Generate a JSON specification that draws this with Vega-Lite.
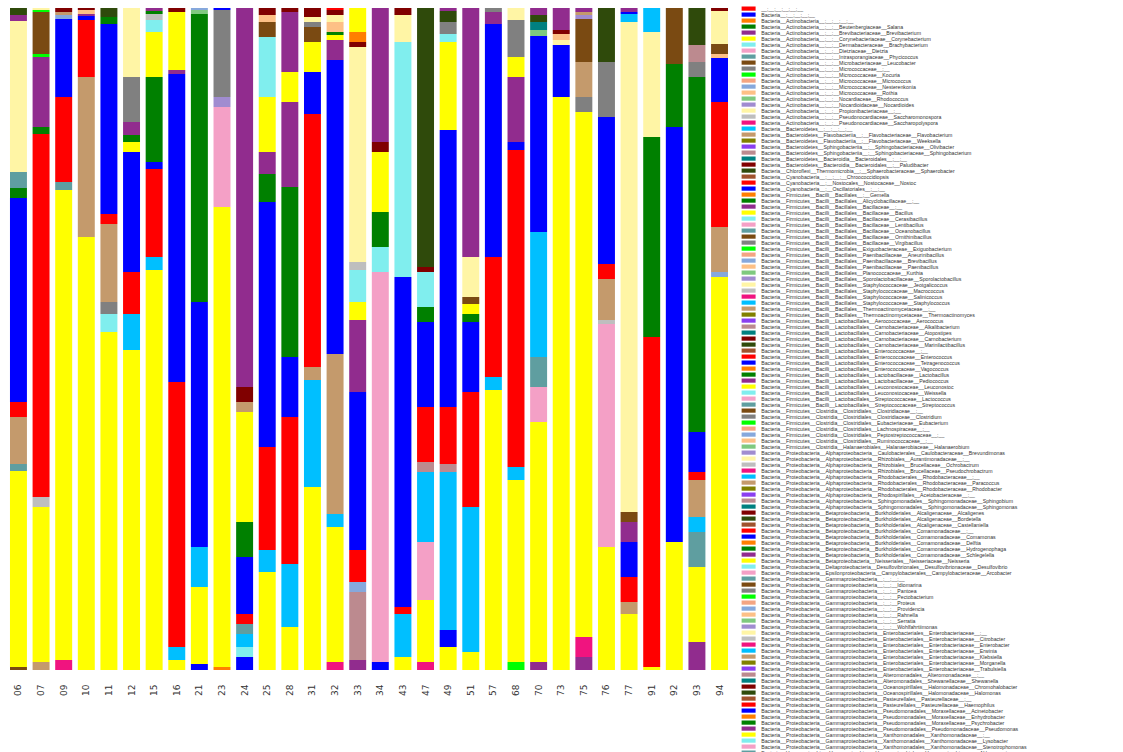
{
"$schema": "https://vega.github.io/schema/vega-lite/v6.json",
"width": 728, "height": 662,
"padding": {"left": 5, "top": 6, "right": 0, "bottom": 0},
"autosize": {"type": "pad"},
"background": "white",
"config": {"view": {"stroke": null}},
"datasets": {"taxa": [
{"id":1,"taxon":"__;__;__;__;__;__"},
{"id":2,"taxon":"Bacteria__;__;__;__;__"},
{"id":3,"taxon":"Bacteria__Actinobacteria__;__;__;__;__"},
{"id":4,"taxon":"Bacteria__Actinobacteria__;__;__Beutenbergiaceae__Salana"},
{"id":5,"taxon":"Bacteria__Actinobacteria__;__;__Brevibacteriaceae__Brevibacterium"},
{"id":6,"taxon":"Bacteria__Actinobacteria__;__;__Corynebacteriaceae__Corynebacterium"},
{"id":7,"taxon":"Bacteria__Actinobacteria__;__;__Dermabacteraceae__Brachybacterium"},
{"id":8,"taxon":"Bacteria__Actinobacteria__;__;__Dietziaceae__Dietzia"},
{"id":9,"taxon":"Bacteria__Actinobacteria__;__;__Intrasporangiaceae__Phycicoccus"},
{"id":10,"taxon":"Bacteria__Actinobacteria__;__;__Microbacteriaceae__Leucobacter"},
{"id":11,"taxon":"Bacteria__Actinobacteria__;__;__Micrococcaceae__;__"},
{"id":12,"taxon":"Bacteria__Actinobacteria__;__;__Micrococcaceae__Kocuria"},
{"id":13,"taxon":"Bacteria__Actinobacteria__;__;__Micrococcaceae__Micrococcus"},
{"id":14,"taxon":"Bacteria__Actinobacteria__;__;__Micrococcaceae__Nesterenkonia"},
{"id":15,"taxon":"Bacteria__Actinobacteria__;__;__Micrococcaceae__Rothia"},
{"id":16,"taxon":"Bacteria__Actinobacteria__;__;__Nocardiaceae__Rhodococcus"},
{"id":17,"taxon":"Bacteria__Actinobacteria__;__;__Nocardioidaceae__Nocardioides"},
{"id":18,"taxon":"Bacteria__Actinobacteria__;__;__Propionibacteriaceae__;__"},
{"id":19,"taxon":"Bacteria__Actinobacteria__;__;__Pseudonocardiaceae__Saccharomonospora"},
{"id":20,"taxon":"Bacteria__Actinobacteria__;__;__Pseudonocardiaceae__Saccharopolyspora"},
{"id":21,"taxon":"Bacteria__Bacteroidetes__;__;__;__;__"},
{"id":22,"taxon":"Bacteria__Bacteroidetes__Flavobacteriia__;__Flavobacteriaceae__Flavobacterium"},
{"id":23,"taxon":"Bacteria__Bacteroidetes__Flavobacteriia__;__Flavobacteriaceae__Weeksella"},
{"id":24,"taxon":"Bacteria__Bacteroidetes__Sphingobacteriia__;__Sphingobacteriaceae__Olivibacter"},
{"id":25,"taxon":"Bacteria__Bacteroidetes__Sphingobacteriia__;__Sphingobacteriaceae__Sphingobacterium"},
{"id":26,"taxon":"Bacteria__Bacteroidetes__Bacteroidia__Bacteroidales__;__;__"},
{"id":27,"taxon":"Bacteria__Bacteroidetes__Bacteroidia__Bacteroidales__;__Paludibacter"},
{"id":28,"taxon":"Bacteria__Chloroflexi__Thermomicrobia__;__Sphaerobacteraceae__Sphaerobacter"},
{"id":29,"taxon":"Bacteria__Cyanobacteria__;__;__;__Chroococcidiopsis"},
{"id":30,"taxon":"Bacteria__Cyanobacteria__;__Nostocales__Nostocaceae__Nostoc"},
{"id":31,"taxon":"Bacteria__Cyanobacteria__;__Oscillatoriales__;__;__"},
{"id":32,"taxon":"Bacteria__Firmicutes__Bacilli__Bacillales__;__Gemella"},
{"id":33,"taxon":"Bacteria__Firmicutes__Bacilli__Bacillales__Alicyclobacillaceae__;__"},
{"id":34,"taxon":"Bacteria__Firmicutes__Bacilli__Bacillales__Bacillaceae__;__"},
{"id":35,"taxon":"Bacteria__Firmicutes__Bacilli__Bacillales__Bacillaceae__Bacillus"},
{"id":36,"taxon":"Bacteria__Firmicutes__Bacilli__Bacillales__Bacillaceae__Cerasibacillus"},
{"id":37,"taxon":"Bacteria__Firmicutes__Bacilli__Bacillales__Bacillaceae__Lentibacillus"},
{"id":38,"taxon":"Bacteria__Firmicutes__Bacilli__Bacillales__Bacillaceae__Oceanobacillus"},
{"id":39,"taxon":"Bacteria__Firmicutes__Bacilli__Bacillales__Bacillaceae__Ornithinibacillus"},
{"id":40,"taxon":"Bacteria__Firmicutes__Bacilli__Bacillales__Bacillaceae__Virgibacillus"},
{"id":41,"taxon":"Bacteria__Firmicutes__Bacilli__Bacillales__Exiguobacteraceae__Exiguobacterium"},
{"id":42,"taxon":"Bacteria__Firmicutes__Bacilli__Bacillales__Paenibacillaceae__Aneurinibacillus"},
{"id":43,"taxon":"Bacteria__Firmicutes__Bacilli__Bacillales__Paenibacillaceae__Brevibacillus"},
{"id":44,"taxon":"Bacteria__Firmicutes__Bacilli__Bacillales__Paenibacillaceae__Paenibacillus"},
{"id":45,"taxon":"Bacteria__Firmicutes__Bacilli__Bacillales__Planococcaceae__Kurthia"},
{"id":46,"taxon":"Bacteria__Firmicutes__Bacilli__Bacillales__Sporolactobacillaceae__Sporolactobacillus"},
{"id":47,"taxon":"Bacteria__Firmicutes__Bacilli__Bacillales__Staphylococcaceae__Jeotgalicoccus"},
{"id":48,"taxon":"Bacteria__Firmicutes__Bacilli__Bacillales__Staphylococcaceae__Macrococcus"},
{"id":49,"taxon":"Bacteria__Firmicutes__Bacilli__Bacillales__Staphylococcaceae__Salinicoccus"},
{"id":50,"taxon":"Bacteria__Firmicutes__Bacilli__Bacillales__Staphylococcaceae__Staphylococcus"},
{"id":51,"taxon":"Bacteria__Firmicutes__Bacilli__Bacillales__Thermoactinomycetaceae__;__"},
{"id":52,"taxon":"Bacteria__Firmicutes__Bacilli__Bacillales__Thermoactinomycetaceae__Thermoactinomyces"},
{"id":53,"taxon":"Bacteria__Firmicutes__Bacilli__Lactobacillales__Aerococcaceae__Aerococcus"},
{"id":54,"taxon":"Bacteria__Firmicutes__Bacilli__Lactobacillales__Carnobacteriaceae__Alkalibacterium"},
{"id":55,"taxon":"Bacteria__Firmicutes__Bacilli__Lactobacillales__Carnobacteriaceae__Atopostipes"},
{"id":56,"taxon":"Bacteria__Firmicutes__Bacilli__Lactobacillales__Carnobacteriaceae__Carnobacterium"},
{"id":57,"taxon":"Bacteria__Firmicutes__Bacilli__Lactobacillales__Carnobacteriaceae__Marinilactibacillus"},
{"id":58,"taxon":"Bacteria__Firmicutes__Bacilli__Lactobacillales__Enterococcaceae__;__"},
{"id":59,"taxon":"Bacteria__Firmicutes__Bacilli__Lactobacillales__Enterococcaceae__Enterococcus"},
{"id":60,"taxon":"Bacteria__Firmicutes__Bacilli__Lactobacillales__Enterococcaceae__Tetragenococcus"},
{"id":61,"taxon":"Bacteria__Firmicutes__Bacilli__Lactobacillales__Enterococcaceae__Vagococcus"},
{"id":62,"taxon":"Bacteria__Firmicutes__Bacilli__Lactobacillales__Lactobacillaceae__Lactobacillus"},
{"id":63,"taxon":"Bacteria__Firmicutes__Bacilli__Lactobacillales__Lactobacillaceae__Pediococcus"},
{"id":64,"taxon":"Bacteria__Firmicutes__Bacilli__Lactobacillales__Leuconostocaceae__Leuconostoc"},
{"id":65,"taxon":"Bacteria__Firmicutes__Bacilli__Lactobacillales__Leuconostocaceae__Weissella"},
{"id":66,"taxon":"Bacteria__Firmicutes__Bacilli__Lactobacillales__Streptococcaceae__Lactococcus"},
{"id":67,"taxon":"Bacteria__Firmicutes__Bacilli__Lactobacillales__Streptococcaceae__Streptococcus"},
{"id":68,"taxon":"Bacteria__Firmicutes__Clostridia__Clostridiales__Clostridiaceae__;__"},
{"id":69,"taxon":"Bacteria__Firmicutes__Clostridia__Clostridiales__Clostridiaceae__Clostridium"},
{"id":70,"taxon":"Bacteria__Firmicutes__Clostridia__Clostridiales__Eubacteriaceae__Eubacterium"},
{"id":71,"taxon":"Bacteria__Firmicutes__Clostridia__Clostridiales__Lachnospiraceae__;__"},
{"id":72,"taxon":"Bacteria__Firmicutes__Clostridia__Clostridiales__Peptostreptococcaceae__;__"},
{"id":73,"taxon":"Bacteria__Firmicutes__Clostridia__Clostridiales__Ruminococcaceae__;__"},
{"id":74,"taxon":"Bacteria__Firmicutes__Clostridia__Halanaerobiales__Halanaerobiaceae__Halanaerobium"},
{"id":75,"taxon":"Bacteria__Proteobacteria__Alphaproteobacteria__Caulobacterales__Caulobacteraceae__Brevundimonas"},
{"id":76,"taxon":"Bacteria__Proteobacteria__Alphaproteobacteria__Rhizobiales__Aurantimonadaceae__;__"},
{"id":77,"taxon":"Bacteria__Proteobacteria__Alphaproteobacteria__Rhizobiales__Brucellaceae__Ochrobactrum"},
{"id":78,"taxon":"Bacteria__Proteobacteria__Alphaproteobacteria__Rhizobiales__Brucellaceae__Pseudochrobactrum"},
{"id":79,"taxon":"Bacteria__Proteobacteria__Alphaproteobacteria__Rhodobacterales__Rhodobacteraceae__;__"},
{"id":80,"taxon":"Bacteria__Proteobacteria__Alphaproteobacteria__Rhodobacterales__Rhodobacteraceae__Paracoccus"},
{"id":81,"taxon":"Bacteria__Proteobacteria__Alphaproteobacteria__Rhodobacterales__Rhodobacteraceae__Rhodobacter"},
{"id":82,"taxon":"Bacteria__Proteobacteria__Alphaproteobacteria__Rhodospirillales__Acetobacteraceae__;__"},
{"id":83,"taxon":"Bacteria__Proteobacteria__Alphaproteobacteria__Sphingomonadales__Sphingomonadaceae__Sphingobium"},
{"id":84,"taxon":"Bacteria__Proteobacteria__Alphaproteobacteria__Sphingomonadales__Sphingomonadaceae__Sphingomonas"},
{"id":85,"taxon":"Bacteria__Proteobacteria__Betaproteobacteria__Burkholderiales__Alcaligenaceae__Alcaligenes"},
{"id":86,"taxon":"Bacteria__Proteobacteria__Betaproteobacteria__Burkholderiales__Alcaligenaceae__Bordetella"},
{"id":87,"taxon":"Bacteria__Proteobacteria__Betaproteobacteria__Burkholderiales__Alcaligenaceae__Castellaniella"},
{"id":88,"taxon":"Bacteria__Proteobacteria__Betaproteobacteria__Burkholderiales__Comamonadaceae__;__"},
{"id":89,"taxon":"Bacteria__Proteobacteria__Betaproteobacteria__Burkholderiales__Comamonadaceae__Comamonas"},
{"id":90,"taxon":"Bacteria__Proteobacteria__Betaproteobacteria__Burkholderiales__Comamonadaceae__Delftia"},
{"id":91,"taxon":"Bacteria__Proteobacteria__Betaproteobacteria__Burkholderiales__Comamonadaceae__Hydrogenophaga"},
{"id":92,"taxon":"Bacteria__Proteobacteria__Betaproteobacteria__Burkholderiales__Comamonadaceae__Schlegelella"},
{"id":93,"taxon":"Bacteria__Proteobacteria__Betaproteobacteria__Neisseriales__Neisseriaceae__Neisseria"},
{"id":94,"taxon":"Bacteria__Proteobacteria__Deltaproteobacteria__Desulfovibrionales__Desulfovibrionaceae__Desulfovibrio"},
{"id":95,"taxon":"Bacteria__Proteobacteria__Epsilonproteobacteria__Campylobacterales__Campylobacteraceae__Arcobacter"},
{"id":96,"taxon":"Bacteria__Proteobacteria__Gammaproteobacteria__;__;__;__"},
{"id":97,"taxon":"Bacteria__Proteobacteria__Gammaproteobacteria__;__;__Idiomarina"},
{"id":98,"taxon":"Bacteria__Proteobacteria__Gammaproteobacteria__;__;__Pantoea"},
{"id":99,"taxon":"Bacteria__Proteobacteria__Gammaproteobacteria__;__;__Pectobacterium"},
{"id":100,"taxon":"Bacteria__Proteobacteria__Gammaproteobacteria__;__;__Proteus"},
{"id":101,"taxon":"Bacteria__Proteobacteria__Gammaproteobacteria__;__;__Providencia"},
{"id":102,"taxon":"Bacteria__Proteobacteria__Gammaproteobacteria__;__;__Rahnella"},
{"id":103,"taxon":"Bacteria__Proteobacteria__Gammaproteobacteria__;__;__Serratia"},
{"id":104,"taxon":"Bacteria__Proteobacteria__Gammaproteobacteria__;__;__Wohlfahrtiimonas"},
{"id":105,"taxon":"Bacteria__Proteobacteria__Gammaproteobacteria__Enterobacteriales__Enterobacteriaceae__;__"},
{"id":106,"taxon":"Bacteria__Proteobacteria__Gammaproteobacteria__Enterobacteriales__Enterobacteriaceae__Citrobacter"},
{"id":107,"taxon":"Bacteria__Proteobacteria__Gammaproteobacteria__Enterobacteriales__Enterobacteriaceae__Enterobacter"},
{"id":108,"taxon":"Bacteria__Proteobacteria__Gammaproteobacteria__Enterobacteriales__Enterobacteriaceae__Erwinia"},
{"id":109,"taxon":"Bacteria__Proteobacteria__Gammaproteobacteria__Enterobacteriales__Enterobacteriaceae__Klebsiella"},
{"id":110,"taxon":"Bacteria__Proteobacteria__Gammaproteobacteria__Enterobacteriales__Enterobacteriaceae__Morganella"},
{"id":111,"taxon":"Bacteria__Proteobacteria__Gammaproteobacteria__Enterobacteriales__Enterobacteriaceae__Trabulsiella"},
{"id":112,"taxon":"Bacteria__Proteobacteria__Gammaproteobacteria__Alteromonadales__Alteromonadaceae__;__"},
{"id":113,"taxon":"Bacteria__Proteobacteria__Gammaproteobacteria__Alteromonadales__Shewanellaceae__Shewanella"},
{"id":114,"taxon":"Bacteria__Proteobacteria__Gammaproteobacteria__Oceanospirillales__Halomonadaceae__Chromohalobacter"},
{"id":115,"taxon":"Bacteria__Proteobacteria__Gammaproteobacteria__Oceanospirillales__Halomonadaceae__Halomonas"},
{"id":116,"taxon":"Bacteria__Proteobacteria__Gammaproteobacteria__Pasteurellales__Pasteurellaceae__;__"},
{"id":117,"taxon":"Bacteria__Proteobacteria__Gammaproteobacteria__Pasteurellales__Pasteurellaceae__Haemophilus"},
{"id":118,"taxon":"Bacteria__Proteobacteria__Gammaproteobacteria__Pseudomonadales__Moraxellaceae__Acinetobacter"},
{"id":119,"taxon":"Bacteria__Proteobacteria__Gammaproteobacteria__Pseudomonadales__Moraxellaceae__Enhydrobacter"},
{"id":120,"taxon":"Bacteria__Proteobacteria__Gammaproteobacteria__Pseudomonadales__Moraxellaceae__Psychrobacter"},
{"id":121,"taxon":"Bacteria__Proteobacteria__Gammaproteobacteria__Pseudomonadales__Pseudomonadaceae__Pseudomonas"},
{"id":122,"taxon":"Bacteria__Proteobacteria__Gammaproteobacteria__Xanthomonadales__Xanthomonadaceae__;__"},
{"id":123,"taxon":"Bacteria__Proteobacteria__Gammaproteobacteria__Xanthomonadales__Xanthomonadaceae__Lysobacter"},
{"id":124,"taxon":"Bacteria__Proteobacteria__Gammaproteobacteria__Xanthomonadales__Xanthomonadaceae__Stenotrophomonas"},
{"id":125,"taxon":"Bacteria__Verrucomicrobia__Verrucomicrobiae__Verrucomicrobiales__Verrucomicrobiaceae__Akkermansia"}
]},
"data": {"values": [
{"s":"06","id":10,"v":3},{"s":"06","id":35,"v":196},{"s":"06","id":38,"v":7},{"s":"06","id":51,"v":47},{"s":"06","id":59,"v":15},{"s":"06","id":60,"v":204},{"s":"06","id":62,"v":10},{"s":"06","id":67,"v":16},{"s":"06","id":76,"v":151},{"s":"06","id":92,"v":6},{"s":"06","id":115,"v":7},
{"s":"07","id":22,"v":8},{"s":"07","id":35,"v":155},{"s":"07","id":48,"v":10},{"s":"07","id":59,"v":363},{"s":"07","id":62,"v":7},{"s":"07","id":63,"v":70},{"s":"07","id":70,"v":3},{"s":"07","id":97,"v":42},{"s":"07","id":99,"v":2},{"s":"07","id":105,"v":2},
{"s":"09","id":20,"v":10},{"s":"09","id":35,"v":470},{"s":"09","id":38,"v":8},{"s":"09","id":59,"v":85},{"s":"09","id":60,"v":78},{"s":"09","id":72,"v":4},{"s":"09","id":80,"v":3},{"s":"09","id":114,"v":4},
{"s":"10","id":35,"v":433},{"s":"10","id":51,"v":160},{"s":"10","id":59,"v":57},{"s":"10","id":60,"v":4},{"s":"10","id":63,"v":2},{"s":"10","id":73,"v":4},{"s":"10","id":85,"v":2},
{"s":"11","id":35,"v":338},{"s":"11","id":36,"v":18},{"s":"11","id":40,"v":12},{"s":"11","id":51,"v":78},{"s":"11","id":59,"v":10},{"s":"11","id":60,"v":190},{"s":"11","id":62,"v":7},{"s":"11","id":86,"v":9},
{"s":"12","id":35,"v":320},{"s":"12","id":50,"v":36},{"s":"12","id":59,"v":42},{"s":"12","id":60,"v":120},{"s":"12","id":64,"v":10},{"s":"12","id":91,"v":7},{"s":"12","id":92,"v":13},{"s":"12","id":98,"v":45},{"s":"12","id":105,"v":69},
{"s":"15","id":35,"v":400},{"s":"15","id":50,"v":13},{"s":"15","id":59,"v":88},{"s":"15","id":60,"v":7},{"s":"15","id":62,"v":85},{"s":"15","id":64,"v":45},{"s":"15","id":65,"v":12},{"s":"15","id":77,"v":6},{"s":"15","id":91,"v":3},{"s":"15","id":92,"v":3},
{"s":"16","id":35,"v":10},{"s":"16","id":50,"v":13},{"s":"16","id":59,"v":265},{"s":"16","id":60,"v":308},{"s":"16","id":63,"v":4},{"s":"16","id":64,"v":58},{"s":"16","id":85,"v":4},
{"s":"21","id":2,"v":6},{"s":"21","id":35,"v":77},{"s":"21","id":50,"v":40},{"s":"21","id":60,"v":245},{"s":"21","id":62,"v":288},{"s":"21","id":74,"v":4},{"s":"21","id":101,"v":2},
{"s":"23","id":3,"v":3},{"s":"23","id":35,"v":460},{"s":"23","id":37,"v":100},{"s":"23","id":46,"v":10},{"s":"23","id":69,"v":87},{"s":"23","id":89,"v":2},
{"s":"24","id":2,"v":13},{"s":"24","id":7,"v":10},{"s":"24","id":21,"v":13},{"s":"24","id":38,"v":10},{"s":"24","id":59,"v":10},{"s":"24","id":60,"v":57},{"s":"24","id":62,"v":35},{"s":"24","id":64,"v":110},{"s":"24","id":80,"v":10},{"s":"24","id":85,"v":15},{"s":"24","id":92,"v":379},
{"s":"25","id":35,"v":98},{"s":"25","id":50,"v":22},{"s":"25","id":59,"v":103},{"s":"25","id":60,"v":245},{"s":"25","id":62,"v":28},{"s":"25","id":63,"v":22},{"s":"25","id":64,"v":55},{"s":"25","id":65,"v":60},{"s":"25","id":68,"v":15},{"s":"25","id":73,"v":7},{"s":"25","id":85,"v":7},
{"s":"28","id":35,"v":43},{"s":"28","id":50,"v":63},{"s":"28","id":59,"v":147},{"s":"28","id":60,"v":60},{"s":"28","id":62,"v":170},{"s":"28","id":63,"v":85},{"s":"28","id":64,"v":30},{"s":"28","id":92,"v":60},{"s":"28","id":114,"v":4},
{"s":"31","id":35,"v":183},{"s":"31","id":50,"v":107},{"s":"31","id":51,"v":13},{"s":"31","id":59,"v":253},{"s":"31","id":60,"v":42},{"s":"31","id":64,"v":30},{"s":"31","id":68,"v":15},{"s":"31","id":69,"v":5},{"s":"31","id":76,"v":5},{"s":"31","id":85,"v":9},
{"s":"32","id":20,"v":8},{"s":"32","id":35,"v":135},{"s":"32","id":50,"v":13},{"s":"32","id":51,"v":160},{"s":"32","id":60,"v":294},{"s":"32","id":63,"v":20},{"s":"32","id":64,"v":5},{"s":"32","id":91,"v":3},{"s":"32","id":102,"v":10},{"s":"32","id":105,"v":7},{"s":"32","id":114,"v":5},{"s":"32","id":117,"v":2},
{"s":"33","id":5,"v":10},{"s":"33","id":25,"v":68},{"s":"33","id":43,"v":10},{"s":"33","id":59,"v":32},{"s":"33","id":60,"v":158},{"s":"33","id":63,"v":72},{"s":"33","id":64,"v":18},{"s":"33","id":65,"v":32},{"s":"33","id":77,"v":8},{"s":"33","id":105,"v":215},{"s":"33","id":114,"v":5},{"s":"33","id":119,"v":10},{"s":"33","id":122,"v":24},
{"s":"34","id":2,"v":8},{"s":"34","id":8,"v":390},{"s":"34","id":36,"v":25},{"s":"34","id":62,"v":35},{"s":"34","id":64,"v":60},{"s":"34","id":85,"v":10},{"s":"34","id":92,"v":134},
{"s":"43","id":35,"v":13},{"s":"43","id":50,"v":43},{"s":"43","id":59,"v":7},{"s":"43","id":60,"v":330},{"s":"43","id":65,"v":235},{"s":"43","id":105,"v":27},{"s":"43","id":114,"v":7},
{"s":"47","id":20,"v":8},{"s":"47","id":35,"v":62},{"s":"47","id":37,"v":58},{"s":"47","id":50,"v":70},{"s":"47","id":54,"v":10},{"s":"47","id":59,"v":55},{"s":"47","id":60,"v":85},{"s":"47","id":62,"v":15},{"s":"47","id":65,"v":35},{"s":"47","id":85,"v":5},{"s":"47","id":86,"v":259},
{"s":"49","id":6,"v":23},{"s":"49","id":31,"v":17},{"s":"49","id":50,"v":158},{"s":"49","id":54,"v":8},{"s":"49","id":59,"v":57},{"s":"49","id":60,"v":277},{"s":"49","id":64,"v":88},{"s":"49","id":65,"v":8},{"s":"49","id":69,"v":12},{"s":"49","id":86,"v":11},{"s":"49","id":92,"v":3},
{"s":"51","id":35,"v":18},{"s":"51","id":50,"v":145},{"s":"51","id":59,"v":115},{"s":"51","id":60,"v":70},{"s":"51","id":62,"v":8},{"s":"51","id":64,"v":10},{"s":"51","id":68,"v":7},{"s":"51","id":76,"v":40},{"s":"51","id":92,"v":249},
{"s":"57","id":35,"v":280},{"s":"57","id":50,"v":13},{"s":"57","id":59,"v":120},{"s":"57","id":60,"v":233},{"s":"57","id":63,"v":12},{"s":"57","id":69,"v":4},
{"s":"68","id":12,"v":8},{"s":"68","id":35,"v":182},{"s":"68","id":50,"v":13},{"s":"68","id":59,"v":317},{"s":"68","id":60,"v":8},{"s":"68","id":63,"v":65},{"s":"68","id":64,"v":20},{"s":"68","id":69,"v":37},{"s":"68","id":76,"v":12},
{"s":"70","id":5,"v":8},{"s":"70","id":35,"v":240},{"s":"70","id":37,"v":35},{"s":"70","id":38,"v":30},{"s":"70","id":50,"v":125},{"s":"70","id":60,"v":196},{"s":"70","id":74,"v":6},{"s":"70","id":84,"v":8},{"s":"70","id":86,"v":7},{"s":"70","id":92,"v":7},
{"s":"73","id":35,"v":573},{"s":"73","id":60,"v":52},{"s":"73","id":76,"v":5},{"s":"73","id":102,"v":6},{"s":"73","id":114,"v":4},{"s":"73","id":121,"v":22},
{"s":"75","id":5,"v":13},{"s":"75","id":20,"v":20},{"s":"75","id":35,"v":525},{"s":"75","id":40,"v":15},{"s":"75","id":51,"v":35},{"s":"75","id":68,"v":43},{"s":"75","id":75,"v":4},{"s":"75","id":80,"v":3},{"s":"75","id":92,"v":4},
{"s":"76","id":35,"v":123},{"s":"76","id":37,"v":223},{"s":"76","id":48,"v":4},{"s":"76","id":51,"v":41},{"s":"76","id":59,"v":15},{"s":"76","id":60,"v":147},{"s":"76","id":69,"v":55},{"s":"76","id":86,"v":54},
{"s":"77","id":35,"v":56},{"s":"77","id":51,"v":12},{"s":"77","id":59,"v":25},{"s":"77","id":60,"v":35},{"s":"77","id":63,"v":20},{"s":"77","id":68,"v":10},{"s":"77","id":76,"v":490},{"s":"77","id":79,"v":8},{"s":"77","id":89,"v":2},{"s":"77","id":92,"v":4},
{"s":"91","id":35,"v":3},{"s":"91","id":59,"v":330},{"s":"91","id":62,"v":200},{"s":"91","id":76,"v":105},{"s":"91","id":79,"v":24},
{"s":"92","id":35,"v":128},{"s":"92","id":60,"v":415},{"s":"92","id":62,"v":63},{"s":"92","id":68,"v":56},
{"s":"93","id":5,"v":28},{"s":"93","id":35,"v":75},{"s":"93","id":38,"v":35},{"s":"93","id":50,"v":15},{"s":"93","id":51,"v":37},{"s":"93","id":59,"v":8},{"s":"93","id":60,"v":40},{"s":"93","id":62,"v":355},{"s":"93","id":69,"v":15},{"s":"93","id":83,"v":17},{"s":"93","id":86,"v":37},
{"s":"94","id":35,"v":393},{"s":"94","id":43,"v":5},{"s":"94","id":51,"v":45},{"s":"94","id":59,"v":125},{"s":"94","id":60,"v":44},{"s":"94","id":73,"v":4},{"s":"94","id":97,"v":10},{"s":"94","id":105,"v":33},{"s":"94","id":114,"v":3}
]},
"transform": [{"lookup": "id", "from": {"data": {"name": "taxa"}, "key": "id", "fields": ["taxon"]}}],
"mark": {"type": "bar", "strokeWidth": 0},
"encoding": {
"x": {"field": "s", "type": "nominal", "sort": null, "scale": {"paddingInner": 0.25, "paddingOuter": 0.22},
 "axis": {"title": null, "labelAngle": -90, "domain": false, "ticks": false, "labelPadding": 14, "labelFontSize": 9, "labelColor": "#333333", "labelFont": "DejaVu Sans"}},
"y": {"field": "v", "type": "quantitative", "stack": "normalize", "axis": null},
"order": {"field": "id", "type": "quantitative", "sort": "ascending"},
"color": {"field": "taxon", "type": "nominal",
 "scale": {"domain": [
"__;__;__;__;__;__",
"Bacteria__;__;__;__;__",
"Bacteria__Actinobacteria__;__;__;__;__",
"Bacteria__Actinobacteria__;__;__Beutenbergiaceae__Salana",
"Bacteria__Actinobacteria__;__;__Brevibacteriaceae__Brevibacterium",
"Bacteria__Actinobacteria__;__;__Corynebacteriaceae__Corynebacterium",
"Bacteria__Actinobacteria__;__;__Dermabacteraceae__Brachybacterium",
"Bacteria__Actinobacteria__;__;__Dietziaceae__Dietzia",
"Bacteria__Actinobacteria__;__;__Intrasporangiaceae__Phycicoccus",
"Bacteria__Actinobacteria__;__;__Microbacteriaceae__Leucobacter",
"Bacteria__Actinobacteria__;__;__Micrococcaceae__;__",
"Bacteria__Actinobacteria__;__;__Micrococcaceae__Kocuria",
"Bacteria__Actinobacteria__;__;__Micrococcaceae__Micrococcus",
"Bacteria__Actinobacteria__;__;__Micrococcaceae__Nesterenkonia",
"Bacteria__Actinobacteria__;__;__Micrococcaceae__Rothia",
"Bacteria__Actinobacteria__;__;__Nocardiaceae__Rhodococcus",
"Bacteria__Actinobacteria__;__;__Nocardioidaceae__Nocardioides",
"Bacteria__Actinobacteria__;__;__Propionibacteriaceae__;__",
"Bacteria__Actinobacteria__;__;__Pseudonocardiaceae__Saccharomonospora",
"Bacteria__Actinobacteria__;__;__Pseudonocardiaceae__Saccharopolyspora",
"Bacteria__Bacteroidetes__;__;__;__;__",
"Bacteria__Bacteroidetes__Flavobacteriia__;__Flavobacteriaceae__Flavobacterium",
"Bacteria__Bacteroidetes__Flavobacteriia__;__Flavobacteriaceae__Weeksella",
"Bacteria__Bacteroidetes__Sphingobacteriia__;__Sphingobacteriaceae__Olivibacter",
"Bacteria__Bacteroidetes__Sphingobacteriia__;__Sphingobacteriaceae__Sphingobacterium",
"Bacteria__Bacteroidetes__Bacteroidia__Bacteroidales__;__;__",
"Bacteria__Bacteroidetes__Bacteroidia__Bacteroidales__;__Paludibacter",
"Bacteria__Chloroflexi__Thermomicrobia__;__Sphaerobacteraceae__Sphaerobacter",
"Bacteria__Cyanobacteria__;__;__;__Chroococcidiopsis",
"Bacteria__Cyanobacteria__;__Nostocales__Nostocaceae__Nostoc",
"Bacteria__Cyanobacteria__;__Oscillatoriales__;__;__",
"Bacteria__Firmicutes__Bacilli__Bacillales__;__Gemella",
"Bacteria__Firmicutes__Bacilli__Bacillales__Alicyclobacillaceae__;__",
"Bacteria__Firmicutes__Bacilli__Bacillales__Bacillaceae__;__",
"Bacteria__Firmicutes__Bacilli__Bacillales__Bacillaceae__Bacillus",
"Bacteria__Firmicutes__Bacilli__Bacillales__Bacillaceae__Cerasibacillus",
"Bacteria__Firmicutes__Bacilli__Bacillales__Bacillaceae__Lentibacillus",
"Bacteria__Firmicutes__Bacilli__Bacillales__Bacillaceae__Oceanobacillus",
"Bacteria__Firmicutes__Bacilli__Bacillales__Bacillaceae__Ornithinibacillus",
"Bacteria__Firmicutes__Bacilli__Bacillales__Bacillaceae__Virgibacillus",
"Bacteria__Firmicutes__Bacilli__Bacillales__Exiguobacteraceae__Exiguobacterium",
"Bacteria__Firmicutes__Bacilli__Bacillales__Paenibacillaceae__Aneurinibacillus",
"Bacteria__Firmicutes__Bacilli__Bacillales__Paenibacillaceae__Brevibacillus",
"Bacteria__Firmicutes__Bacilli__Bacillales__Paenibacillaceae__Paenibacillus",
"Bacteria__Firmicutes__Bacilli__Bacillales__Planococcaceae__Kurthia",
"Bacteria__Firmicutes__Bacilli__Bacillales__Sporolactobacillaceae__Sporolactobacillus",
"Bacteria__Firmicutes__Bacilli__Bacillales__Staphylococcaceae__Jeotgalicoccus",
"Bacteria__Firmicutes__Bacilli__Bacillales__Staphylococcaceae__Macrococcus",
"Bacteria__Firmicutes__Bacilli__Bacillales__Staphylococcaceae__Salinicoccus",
"Bacteria__Firmicutes__Bacilli__Bacillales__Staphylococcaceae__Staphylococcus",
"Bacteria__Firmicutes__Bacilli__Bacillales__Thermoactinomycetaceae__;__",
"Bacteria__Firmicutes__Bacilli__Bacillales__Thermoactinomycetaceae__Thermoactinomyces",
"Bacteria__Firmicutes__Bacilli__Lactobacillales__Aerococcaceae__Aerococcus",
"Bacteria__Firmicutes__Bacilli__Lactobacillales__Carnobacteriaceae__Alkalibacterium",
"Bacteria__Firmicutes__Bacilli__Lactobacillales__Carnobacteriaceae__Atopostipes",
"Bacteria__Firmicutes__Bacilli__Lactobacillales__Carnobacteriaceae__Carnobacterium",
"Bacteria__Firmicutes__Bacilli__Lactobacillales__Carnobacteriaceae__Marinilactibacillus",
"Bacteria__Firmicutes__Bacilli__Lactobacillales__Enterococcaceae__;__",
"Bacteria__Firmicutes__Bacilli__Lactobacillales__Enterococcaceae__Enterococcus",
"Bacteria__Firmicutes__Bacilli__Lactobacillales__Enterococcaceae__Tetragenococcus",
"Bacteria__Firmicutes__Bacilli__Lactobacillales__Enterococcaceae__Vagococcus",
"Bacteria__Firmicutes__Bacilli__Lactobacillales__Lactobacillaceae__Lactobacillus",
"Bacteria__Firmicutes__Bacilli__Lactobacillales__Lactobacillaceae__Pediococcus",
"Bacteria__Firmicutes__Bacilli__Lactobacillales__Leuconostocaceae__Leuconostoc",
"Bacteria__Firmicutes__Bacilli__Lactobacillales__Leuconostocaceae__Weissella",
"Bacteria__Firmicutes__Bacilli__Lactobacillales__Streptococcaceae__Lactococcus",
"Bacteria__Firmicutes__Bacilli__Lactobacillales__Streptococcaceae__Streptococcus",
"Bacteria__Firmicutes__Clostridia__Clostridiales__Clostridiaceae__;__",
"Bacteria__Firmicutes__Clostridia__Clostridiales__Clostridiaceae__Clostridium",
"Bacteria__Firmicutes__Clostridia__Clostridiales__Eubacteriaceae__Eubacterium",
"Bacteria__Firmicutes__Clostridia__Clostridiales__Lachnospiraceae__;__",
"Bacteria__Firmicutes__Clostridia__Clostridiales__Peptostreptococcaceae__;__",
"Bacteria__Firmicutes__Clostridia__Clostridiales__Ruminococcaceae__;__",
"Bacteria__Firmicutes__Clostridia__Halanaerobiales__Halanaerobiaceae__Halanaerobium",
"Bacteria__Proteobacteria__Alphaproteobacteria__Caulobacterales__Caulobacteraceae__Brevundimonas",
"Bacteria__Proteobacteria__Alphaproteobacteria__Rhizobiales__Aurantimonadaceae__;__",
"Bacteria__Proteobacteria__Alphaproteobacteria__Rhizobiales__Brucellaceae__Ochrobactrum",
"Bacteria__Proteobacteria__Alphaproteobacteria__Rhizobiales__Brucellaceae__Pseudochrobactrum",
"Bacteria__Proteobacteria__Alphaproteobacteria__Rhodobacterales__Rhodobacteraceae__;__",
"Bacteria__Proteobacteria__Alphaproteobacteria__Rhodobacterales__Rhodobacteraceae__Paracoccus",
"Bacteria__Proteobacteria__Alphaproteobacteria__Rhodobacterales__Rhodobacteraceae__Rhodobacter",
"Bacteria__Proteobacteria__Alphaproteobacteria__Rhodospirillales__Acetobacteraceae__;__",
"Bacteria__Proteobacteria__Alphaproteobacteria__Sphingomonadales__Sphingomonadaceae__Sphingobium",
"Bacteria__Proteobacteria__Alphaproteobacteria__Sphingomonadales__Sphingomonadaceae__Sphingomonas",
"Bacteria__Proteobacteria__Betaproteobacteria__Burkholderiales__Alcaligenaceae__Alcaligenes",
"Bacteria__Proteobacteria__Betaproteobacteria__Burkholderiales__Alcaligenaceae__Bordetella",
"Bacteria__Proteobacteria__Betaproteobacteria__Burkholderiales__Alcaligenaceae__Castellaniella",
"Bacteria__Proteobacteria__Betaproteobacteria__Burkholderiales__Comamonadaceae__;__",
"Bacteria__Proteobacteria__Betaproteobacteria__Burkholderiales__Comamonadaceae__Comamonas",
"Bacteria__Proteobacteria__Betaproteobacteria__Burkholderiales__Comamonadaceae__Delftia",
"Bacteria__Proteobacteria__Betaproteobacteria__Burkholderiales__Comamonadaceae__Hydrogenophaga",
"Bacteria__Proteobacteria__Betaproteobacteria__Burkholderiales__Comamonadaceae__Schlegelella",
"Bacteria__Proteobacteria__Betaproteobacteria__Neisseriales__Neisseriaceae__Neisseria",
"Bacteria__Proteobacteria__Deltaproteobacteria__Desulfovibrionales__Desulfovibrionaceae__Desulfovibrio",
"Bacteria__Proteobacteria__Epsilonproteobacteria__Campylobacterales__Campylobacteraceae__Arcobacter",
"Bacteria__Proteobacteria__Gammaproteobacteria__;__;__;__",
"Bacteria__Proteobacteria__Gammaproteobacteria__;__;__Idiomarina",
"Bacteria__Proteobacteria__Gammaproteobacteria__;__;__Pantoea",
"Bacteria__Proteobacteria__Gammaproteobacteria__;__;__Pectobacterium",
"Bacteria__Proteobacteria__Gammaproteobacteria__;__;__Proteus",
"Bacteria__Proteobacteria__Gammaproteobacteria__;__;__Providencia",
"Bacteria__Proteobacteria__Gammaproteobacteria__;__;__Rahnella",
"Bacteria__Proteobacteria__Gammaproteobacteria__;__;__Serratia",
"Bacteria__Proteobacteria__Gammaproteobacteria__;__;__Wohlfahrtiimonas",
"Bacteria__Proteobacteria__Gammaproteobacteria__Enterobacteriales__Enterobacteriaceae__;__",
"Bacteria__Proteobacteria__Gammaproteobacteria__Enterobacteriales__Enterobacteriaceae__Citrobacter",
"Bacteria__Proteobacteria__Gammaproteobacteria__Enterobacteriales__Enterobacteriaceae__Enterobacter",
"Bacteria__Proteobacteria__Gammaproteobacteria__Enterobacteriales__Enterobacteriaceae__Erwinia",
"Bacteria__Proteobacteria__Gammaproteobacteria__Enterobacteriales__Enterobacteriaceae__Klebsiella",
"Bacteria__Proteobacteria__Gammaproteobacteria__Enterobacteriales__Enterobacteriaceae__Morganella",
"Bacteria__Proteobacteria__Gammaproteobacteria__Enterobacteriales__Enterobacteriaceae__Trabulsiella",
"Bacteria__Proteobacteria__Gammaproteobacteria__Alteromonadales__Alteromonadaceae__;__",
"Bacteria__Proteobacteria__Gammaproteobacteria__Alteromonadales__Shewanellaceae__Shewanella",
"Bacteria__Proteobacteria__Gammaproteobacteria__Oceanospirillales__Halomonadaceae__Chromohalobacter",
"Bacteria__Proteobacteria__Gammaproteobacteria__Oceanospirillales__Halomonadaceae__Halomonas",
"Bacteria__Proteobacteria__Gammaproteobacteria__Pasteurellales__Pasteurellaceae__;__",
"Bacteria__Proteobacteria__Gammaproteobacteria__Pasteurellales__Pasteurellaceae__Haemophilus",
"Bacteria__Proteobacteria__Gammaproteobacteria__Pseudomonadales__Moraxellaceae__Acinetobacter",
"Bacteria__Proteobacteria__Gammaproteobacteria__Pseudomonadales__Moraxellaceae__Enhydrobacter",
"Bacteria__Proteobacteria__Gammaproteobacteria__Pseudomonadales__Moraxellaceae__Psychrobacter",
"Bacteria__Proteobacteria__Gammaproteobacteria__Pseudomonadales__Pseudomonadaceae__Pseudomonas",
"Bacteria__Proteobacteria__Gammaproteobacteria__Xanthomonadales__Xanthomonadaceae__;__",
"Bacteria__Proteobacteria__Gammaproteobacteria__Xanthomonadales__Xanthomonadaceae__Lysobacter",
"Bacteria__Proteobacteria__Gammaproteobacteria__Xanthomonadales__Xanthomonadaceae__Stenotrophomonas",
"Bacteria__Verrucomicrobia__Verrucomicrobiae__Verrucomicrobiales__Verrucomicrobiaceae__Akkermansia"
 ],
 "range": ["#FF0000","#0000FF","#FF7F00","#008000","#912C8E","#FFFF00","#80EEEE","#F4A0C6","#5F9EA0","#7A4A12","#808080","#00FF00","#F4A582","#86A8DC","#FDC086","#7FC97F","#A08CD0","#FFF5A5","#BEBEBE","#F0147F","#00BFFF","#C49A6C","#808000","#8A3FF0","#BC8A8F","#008080","#800000","#2F4A0B","#A0522D"]},
 "legend": {"title": null, "orient": "none", "legendX": 741, "legendY": -2, "direction": "vertical", "columns": 1,
  "symbolType": "M-3.5,-1.05H3.5V1.05H-3.5Z", "symbolSize": 16, "symbolStrokeWidth": 0, "symbolOpacity": 1,
  "labelFontSize": 5.2, "labelFont": "Liberation Sans", "labelLimit": 400, "labelColor": "#333333", "labelOffset": 10,
  "rowPadding": -4, "symbolLimit": 200, "padding": 0}}
}
}
